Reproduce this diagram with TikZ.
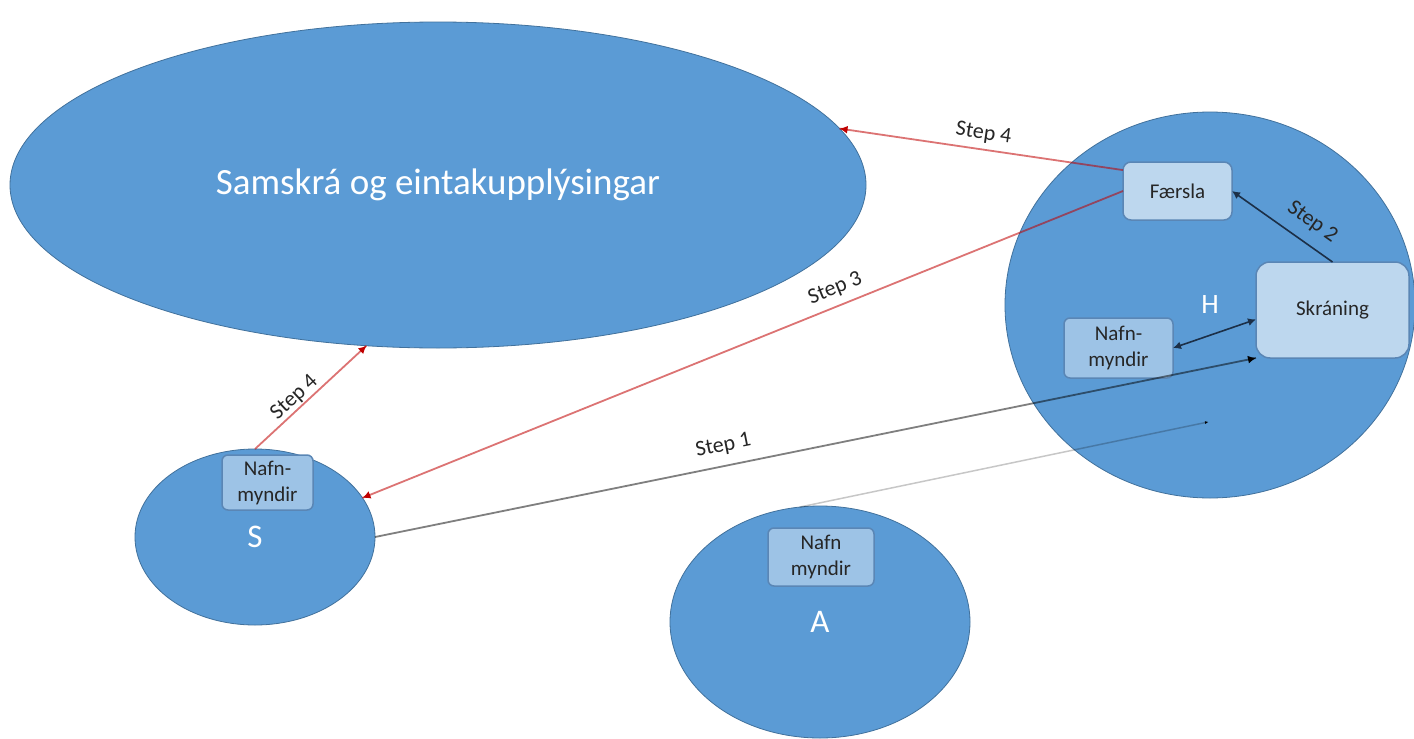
\documentclass[tikz,border=0pt]{standalone}
\usepackage{fontspec}
\setmainfont{Carlito}
\usetikzlibrary{arrows.meta,shapes.geometric,calc}
\definecolor{blobfill}{HTML}{5B9BD5}
\definecolor{blobline}{HTML}{41719C}
\definecolor{boxlight}{HTML}{BDD7EE}
\definecolor{boxmid}{HTML}{9DC3E6}
\definecolor{boxline}{HTML}{5A86B5}
\definecolor{txt}{HTML}{262626}
\definecolor{redc}{HTML}{C00000}
\definecolor{darkc}{HTML}{1C2F47}
\begin{document}
\begin{tikzpicture}[x=1pt,y=-1pt,
  blob/.style={ellipse, fill=blobfill, draw=blobline, line width=0.8pt, inner sep=0pt, outer sep=0pt, text=white},
  lightbox/.style={rectangle, rounded corners=8pt, fill=boxlight, draw=boxline, line width=1.5pt,
     inner sep=0pt, outer sep=0pt, text=txt, font=\fontsize{21}{26}\selectfont, align=center},
  midbox/.style={lightbox, fill=boxmid, rounded corners=6pt},
  steplbl/.style={text=txt, font=\fontsize{22}{26}\selectfont, inner sep=0pt, sloped},
  redline/.style={draw=redc, draw opacity=0.55, line width=1.8pt},
  redtip/.style={draw=redc, line width=1.8pt, -{Latex[length=8pt,width=8pt]}},
  greyline/.style={draw=black, draw opacity=0.5, line width=1.8pt},
  blacktip/.style={draw=black, line width=1.8pt, -{Latex[length=8pt,width=8pt]}},
  darkline/.style={draw=darkc, line width=1.6pt},
  faintline/.style={draw=black, draw opacity=0.22, line width=1.5pt},
]
\useasboundingbox (0,0) rectangle (1414,739);
\fill[white] (0,0) rectangle (1414,739);

% ellipses
\node[blob, minimum width=856pt, minimum height=326pt, font=\fontsize{37}{42}\selectfont] (big) at (438,185) {Samskrá og eintakupplýsingar};
\node[blob, minimum width=410pt, minimum height=386pt, font=\fontsize{28}{32}\selectfont] (H) at (1210,305) {H};
\node[blob, minimum width=240pt, minimum height=176pt, font=\fontsize{33}{36}\selectfont] (S) at (255,537) {S};
\node[blob, minimum width=300pt, minimum height=232pt, font=\fontsize{33}{36}\selectfont] (A) at (820,622) {A};

% boxes
\node[lightbox, minimum width=109pt, minimum height=58pt] (faersla) at (1177.5,191) {Færsla};
\node[lightbox, rounded corners=14pt, minimum width=153pt, minimum height=96pt] (skraning) at (1332.5,310) {Skráning};
\node[midbox, minimum width=109pt, minimum height=60pt] (nafnH) at (1118.5,348) {Nafn-\\myndir};
\node[midbox, minimum width=91pt, minimum height=55pt] (nafnS) at (267.5,482.5) {Nafn-\\myndir};
\node[midbox, minimum width=106pt, minimum height=58pt] (nafnA) at (821,557) {Nafn\\myndir};

\coordinate (hdot) at (1208,422);

% faint line from A into H
\draw[faintline] (A.100) -- (hdot);
\draw[draw=black, line width=1.2pt, -{Latex[length=3pt,width=3pt]}] ($(hdot)!3pt!(A.100)$) -- (hdot);

% Step 1
\draw[greyline] (S.east) -- node[steplbl, pos=0.4, above=10pt] {Step 1} (skraning.south west);
\draw[blacktip] ($(skraning.south west)!8pt!(S.east)$) -- (skraning.south west);

% double arrow
\draw[darkline, {Latex[length=8pt,width=8pt]}-{Latex[length=8pt,width=8pt]}] (nafnH.east) -- (skraning.187);

% Step 2
\draw[darkline, -{Latex[length=8pt,width=8pt]}] (skraning.north) -- node[steplbl, pos=0.32, above=11pt] {Step 2} (faersla.east);

% Step 3
\draw[redline] (faersla.west) -- node[steplbl, pos=0.37, above=7pt] {Step 3} (S.20);
\draw[redtip] ($(S.20)!8pt!(faersla.west)$) -- (S.20);

% Step 4 upper
\draw[redline] (faersla.159) -- node[steplbl, pos=0.5, above=6pt] {Step 4} (big.8);
\draw[redtip] ($(big.8)!8pt!(faersla.159)$) -- (big.8);

% Step 4 lower
\draw[redline] (S.north) -- node[steplbl, pos=0.42, above=1pt] {Step 4} (big.246);
\draw[redtip] ($(big.246)!8pt!(S.north)$) -- (big.246);
\end{tikzpicture}
\end{document}
